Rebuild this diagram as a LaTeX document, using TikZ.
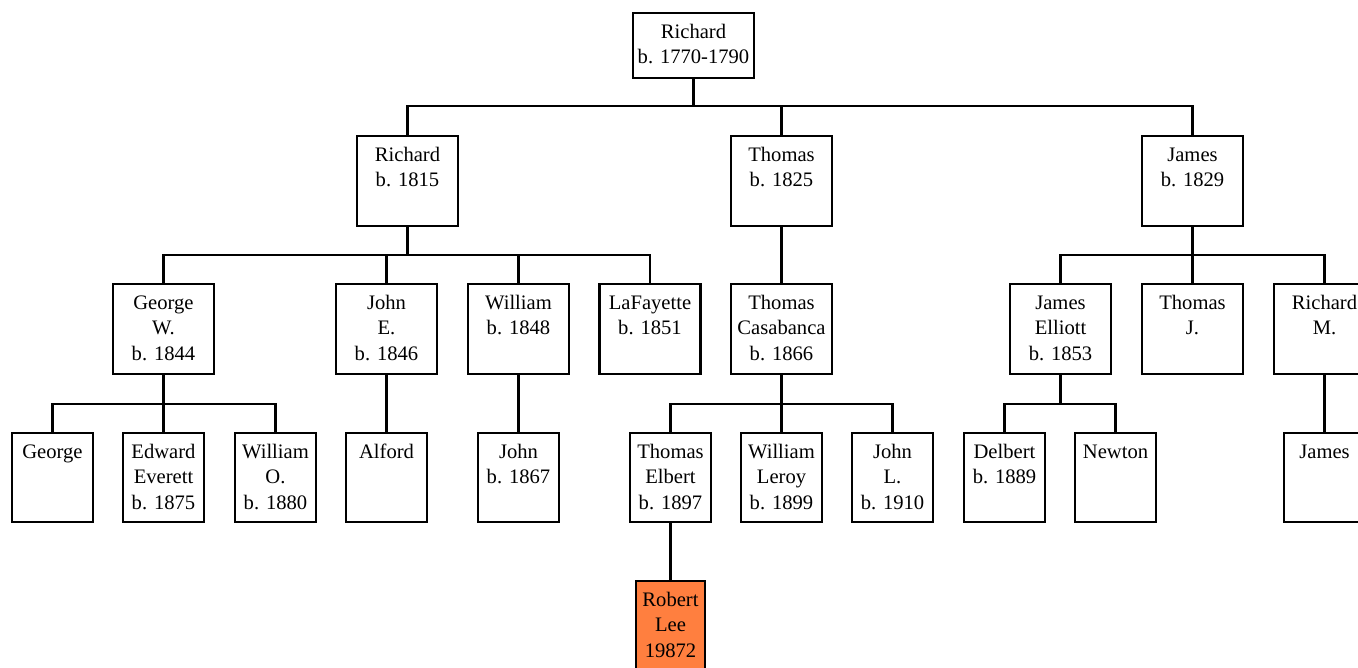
\documentclass[tikz,border=0pt]{standalone}
\usepackage{fontspec}
\setmainfont{Liberation Serif}
\newcommand\pbox[3]{\parbox[c][#2][t]{#1}{\centering\rule{0pt}{25pt}#3}}
\tikzset{
  person/.style={draw, line width=2.5pt, inner sep=0pt, fill=white},
  wide/.style={person, minimum width=101pt, minimum height=90pt},
  narrow/.style={person, minimum width=81pt, minimum height=89pt},
  link/.style={draw, line width=2.5pt}
}
\newcommand\wt[1]{\pbox{101pt}{90pt}{#1}}
\newcommand\nt[1]{\pbox{81pt}{89pt}{#1}}
\begin{document}
\begin{tikzpicture}[x=1pt,y=-1pt,font=\fontsize{20.6}{25.5}\selectfont]
\useasboundingbox (0,0) rectangle (1358,667);
% root
\node[person, minimum width=121pt, minimum height=65pt] (root) at (693.5,45.5) {\pbox{121pt}{65pt}{Richard\\b. 1770-1790}};
% level 1
\node[wide] (r1815) at (407.5,181) {\wt{Richard\\b. 1815}};
\node[wide] (t1825) at (781.5,181) {\wt{Thomas\\b. 1825}};
\node[wide] (j1829) at (1192.5,181) {\wt{James\\b. 1829}};
% level 2
\node[wide] (gw) at (163.5,329) {\wt{George\\W.\\b. 1844}};
\node[wide] (je) at (386.5,329) {\wt{John\\E.\\b. 1846}};
\node[wide] (w1848) at (518.5,329) {\wt{William\\b. 1848}};
\node[wide] (laf) at (650,329) {\wt{LaFayette\\b. 1851}};
\node[wide] (tc) at (781.5,329) {\wt{Thomas\\Casabanca\\b. 1866}};
\node[wide] (jel) at (1060.5,329) {\wt{James\\Elliott\\b. 1853}};
\node[wide] (tj) at (1192.5,329) {\wt{Thomas\\J.}};
\node[wide] (rm) at (1324.5,329) {\wt{Richard\\M.}};
% level 3
\node[narrow] (g) at (52.5,477.5) {\nt{George}};
\node[narrow] (ee) at (163.5,477.5) {\nt{Edward\\Everett\\b. 1875}};
\node[narrow] (wo) at (275.5,477.5) {\nt{William\\O.\\b. 1880}};
\node[narrow] (alf) at (386.5,477.5) {\nt{Alford}};
\node[narrow] (j1867) at (518.5,477.5) {\nt{John\\b. 1867}};
\node[narrow] (te) at (670.5,477.5) {\nt{Thomas\\Elbert\\b. 1897}};
\node[narrow] (wl) at (781.5,477.5) {\nt{William\\Leroy\\b. 1899}};
\node[narrow] (jl) at (892.5,477.5) {\nt{John\\L.\\b. 1910}};
\node[narrow] (del) at (1004.5,477.5) {\nt{Delbert\\b. 1889}};
\node[narrow] (new) at (1115.5,477.5) {\nt{Newton}};
\node[narrow] (jam) at (1324.5,477.5) {\nt{James}};
% level 4
\node[person, fill={rgb,255:red,255;green,127;blue,63}, minimum width=69pt, minimum height=90pt] (rl) at (670.5,626) {\pbox{69pt}{90pt}{Robert\\Lee\\19872}};
% connectors
\foreach \c in {r1815,t1825,j1829}
  \draw[link] (root.south) -- (root.south |- 0,106) -| (\c.north);
\foreach \c in {gw,je,w1848,laf}
  \draw[link] (r1815.south) -- (r1815.south |- 0,255) -| (\c.north);
\draw[link] (t1825.south) -- (tc.north);
\foreach \c in {jel,tj,rm}
  \draw[link] (j1829.south) -- (j1829.south |- 0,255) -| (\c.north);
\foreach \c in {g,ee,wo}
  \draw[link] (gw.south) -- (gw.south |- 0,404) -| (\c.north);
\draw[link] (je.south) -- (alf.north);
\draw[link] (w1848.south) -- (j1867.north);
\foreach \c in {te,wl,jl}
  \draw[link] (tc.south) -- (tc.south |- 0,404) -| (\c.north);
\foreach \c in {del,new}
  \draw[link] (jel.south) -- (jel.south |- 0,404) -| (\c.north);
\draw[link] (rm.south) -- (jam.north);
\draw[link] (te.south) -- (rl.north);
\end{tikzpicture}
\end{document}
